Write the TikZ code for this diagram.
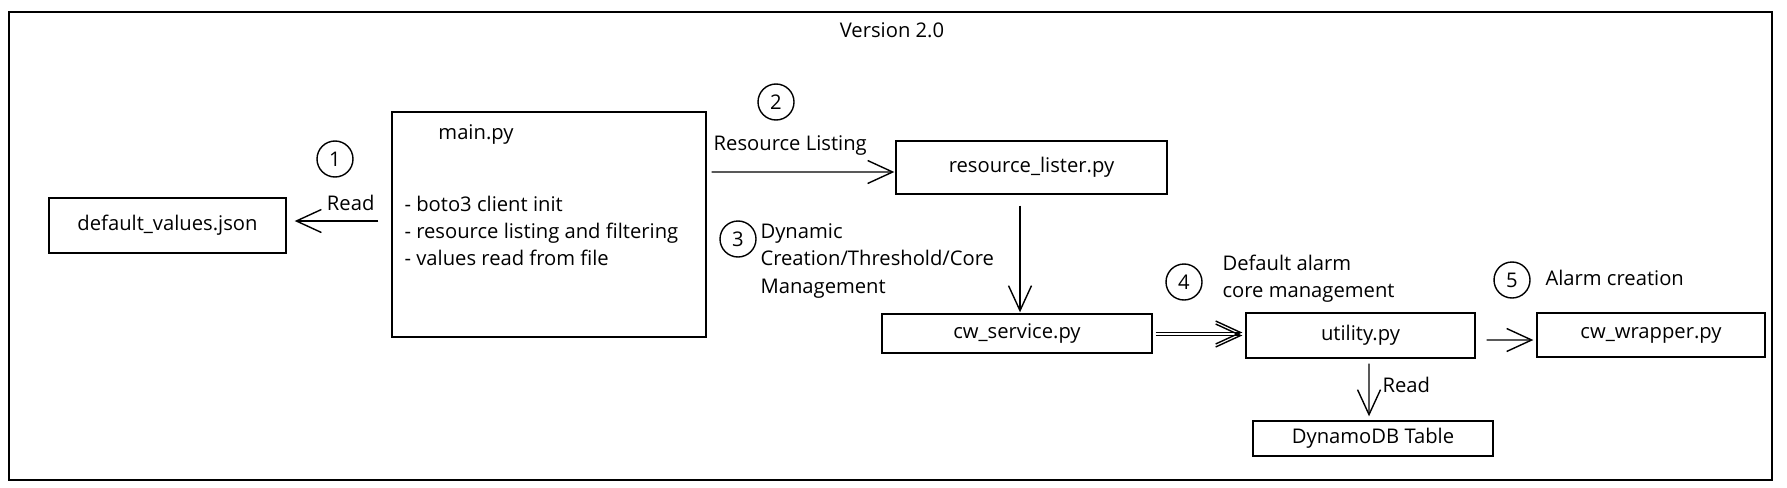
\documentclass[tikz,border=0pt]{standalone}
\usepackage{fontspec}
\setmainfont{Open Sans}
\usetikzlibrary{calc, positioning, arrows.meta}
\newcommand{\px}{0.02cm}

\begin{document}
\begin{tikzpicture}[x=\px, y=-\px, line width=0.8pt,
  font=\fontsize{11.5}{15.4}\selectfont,
  box/.style={draw, inner sep=0pt},
  num/.style={draw, circle, minimum size=36*\px, inner sep=0pt},
  arr/.style={-{Straight Barb[length=5mm,width=4.6mm]}}]
\useasboundingbox (0,0) rectangle (1787,487);
% Outer frame and title
\draw (9,12) rectangle (1772,480);
\node (version) at (892,30) {Version 2.0};
% Draw the file boxes
\node[box, minimum width=237*\px, minimum height=55*\px] (defaults) at (167.5,225.5) {default\_values.json};
\node[box, minimum width=314*\px, minimum height=225*\px] (main) at (549,224.5) {};
\node (mainname) at (476,135) {main.py};
\node[anchor=west, align=left] (maintasks) at (398,231) {- boto3 client init\\- resource listing and filtering\\- values read from file};
\node[box, minimum width=271*\px, minimum height=53*\px] (lister) at (1031.5,167.5) {resource\_lister.py};
\node[box, minimum width=270*\px, minimum height=39*\px] (service) at (1017,333.5) {cw\_service.py};
\node[box, minimum width=229*\px, minimum height=45*\px] (utility) at (1360.5,335.5) {utility.py};
\node[box, minimum width=228*\px, minimum height=44*\px] (wrapper) at (1651,335) {cw\_wrapper.py};
\node[box, minimum width=240*\px, minimum height=35*\px] (dynamo) at (1373,438.5) {DynamoDB Table};
% Step numbers and notes
\node[num] (n1) at (335,159) {1};
\node[num] (n2) at (776,102) {2};
\node[num] (n3) at (738,239) {3};
\node[num] (n4) at (1184,282) {4};
\node[num] (n5) at (1512,280) {5};
\node[anchor=west, align=left] (dynnote) at (754,261) {Dynamic\\Creation/Threshold/Core\\Management};
\node[anchor=west, align=left] (alarmnote) at (1216,278.5) {Default alarm\\core management};
\node[anchor=west] (createnote) at (1539,278) {Alarm creation};
% Draw the connectors
\draw[arr] ($(main.west)+(-13,-3.5)$) -- node[pos=0.33, above=2pt] (read1) {Read} ($(defaults.east)+(8,-4.5)$);
\draw[arr] ($(main.east)+(5,-52.5)$) -- node[pos=0.43, above=6pt] (listing) {Resource Listing} ($(lister.west)+(-1,4.5)$);
\draw[arr] ($(lister.south)+(-11.5,11)$) -- ($(service.north)+(3,-1)$);
\draw[arr] ($(service.east)+(3,-1)$) -- ($(utility.west)+(-3,-3)$);
\draw[arr] ($(service.east)+(3,2)$) -- ($(utility.west)+(-3,0)$);
\draw[arr] ($(utility.east)+(11,4.5)$) -- ($(wrapper.west)+(-3,5)$);
\draw[arr] ($(utility.south)+(8.5,5)$) -- node[pos=0.4, right=4pt] (read2) {Read} ($(dynamo.north)+(-4,-4)$);
\end{tikzpicture}
\end{document}
